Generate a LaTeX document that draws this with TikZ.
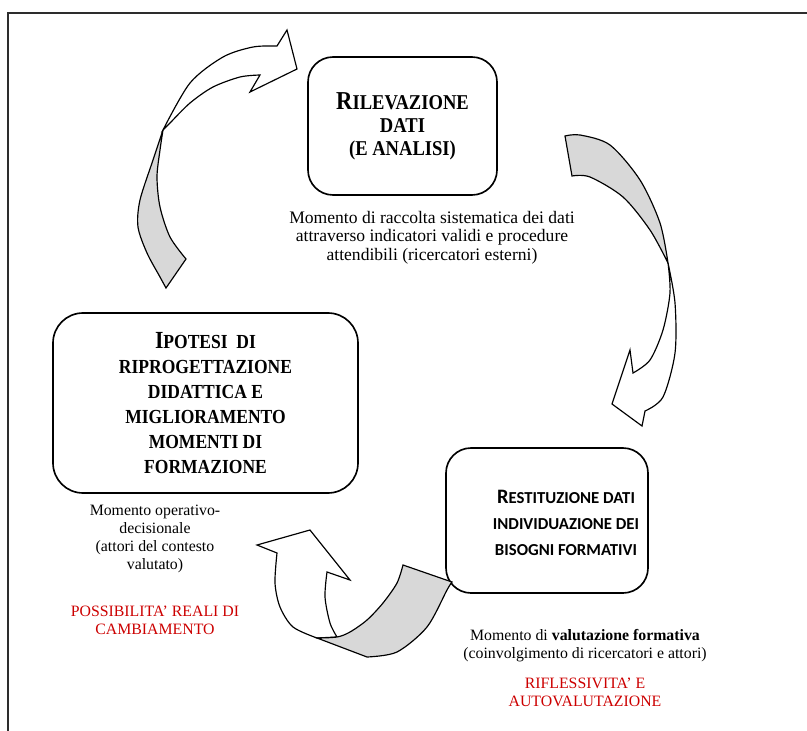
\documentclass[tikz,border=0pt]{standalone}
\usepackage{fontspec}
\setmainfont{Liberation Serif}
\newfontfamily\boxserif[FakeStretch=0.88]{Liberation Serif}
\newfontfamily\boxsans{Carlito}

\definecolor{redtext}{RGB}{204,0,0}
\definecolor{ribbon}{RGB}{216,216,216}
\definecolor{framegray}{RGB}{45,45,45}

% small caps look: bigger first letter, capitals after
\newcommand{\initcap}[3]{{\fontsize{#1}{#1}\selectfont #2}#3}

\begin{document}
\begin{tikzpicture}[x=0.03cm, y=-0.03cm,
  phase/.style={draw, line width=1.4pt, rounded corners=0.75cm, align=center,
    font=\boxserif\bfseries\fontsize{18}{19.6}\selectfont},
  note/.style={align=center, font=\fontsize{13.5}{15.4}\selectfont},
  alert/.style={note, text=redtext},
  ribbonpart/.style={draw, line width=1pt, line join=miter, fill=ribbon},
  headpart/.style={draw, line width=1pt, line join=miter, fill=white}]

\useasboundingbox (0,0) rectangle (807,731);

% Page frame (left and top edge)
\draw[framegray, line width=1.7pt] (8,731) -- (8,13) -- (807,13);

% Phase boxes
\node[phase, minimum width=189*0.03cm, minimum height=138*0.03cm] (ril) at (402.5,126)
  {\initcap{22}{R}{ILEVAZIONE}\\DATI\\(E ANALISI)};
\node[phase, font=\boxserif\bfseries\fontsize{17}{21.3}\selectfont, rounded corners=0.9cm,
  minimum width=305*0.03cm, minimum height=180*0.03cm] (ipo) at (205.5,403)
  {\initcap{21}{I}{POTESI\ \ DI}\\RIPROGETTAZIONE\\DIDATTICA E\\MIGLIORAMENTO\\MOMENTI DI\\FORMAZIONE};
\node[phase, minimum width=202*0.03cm, minimum height=145*0.03cm] (rest) at (547,520.5) {};
\node[align=center, font=\boxsans\bfseries\fontsize{14.3}{22.5}\selectfont] (resttext) at (566,523)
  {\initcap{17.5}{R}{ESTITUZIONE DATI}\\INDIVIDUAZIONE DEI\\BISOGNI FORMATIVI};

% Notes under the boxes
\node[note, font=\fontsize{15}{15.7}\selectfont] (rilnote) at (432,237.5) {Momento di raccolta sistematica dei dati\\attraverso indicatori validi e procedure\\attendibili (ricercatori esterni)};
\node[note] (iponote) at (155,539) {Momento operativo-\\decisionale\\(attori del contesto\\valutato)};
\node[alert] (ipoalert) at (155,620) {POSSIBILITA’ REALI DI\\CAMBIAMENTO};
\node[note] (restnote) at (585,645.5) {Momento di \textbf{valutazione formativa}\\(coinvolgimento di ricercatori e attori)};
\node[alert] (restalert) at (585,692) {RIFLESSIVITA’ E\\AUTOVALUTAZIONE};

% Arrow from the left box up to the top box
\filldraw[ribbonpart] plot[smooth] coordinates {(163,130) (153,160) (140,200) (138,227) (147,253) (160,277) (166,288)}
  -- plot[smooth] coordinates {(186,259) (170,237) (160,207) (157,177) (160,150) (163,130)} -- cycle;
\filldraw[headpart] plot[smooth] coordinates {(163,130) (190,83) (223,57) (253,47) (277,46)}
  -- (287,30) -- (297,69) -- (250,92)
  -- plot[smooth] coordinates {(260,75) (240,77) (213,87) (190,103) (170,123) (163,130)} -- cycle;

% Arrow from the top box down to the right box
\filldraw[ribbonpart] plot[smooth] coordinates {(565,136) (580,135) (610,145) (640,180) (660,223) (668,263)}
  -- plot[smooth] coordinates {(668,263) (650,230) (623,197) (590,177) (572,176)} -- cycle;
\filldraw[headpart] plot[smooth] coordinates {(668,263) (675,303) (675,353) (663,397) (645,411)}
  -- (642,426) -- (612,404) -- (630,350)
  -- plot[smooth] coordinates {(633,373) (650,360) (663,330) (670,293) (668,263)} -- cycle;

% Arrow from the right box back to the left box
\filldraw[headpart] plot[smooth] coordinates {(277,553) (275,583) (280,607) (293,627) (317,638)}
  -- (337,637)
  -- plot[smooth] coordinates {(337,637) (330,623) (325,597) (327,572)}
  -- (350,580) -- (310,530) -- (257,545) -- cycle;
\filldraw[ribbonpart] (317,638) -- plot[smooth] coordinates {(367,657) (397,652) (427,627) (447,590) (452,582)}
  -- plot[smooth] coordinates {(403,565) (397,583) (383,603) (367,620) (350,632) (337,637) (317,638)} -- cycle;

\end{tikzpicture}
\end{document}
